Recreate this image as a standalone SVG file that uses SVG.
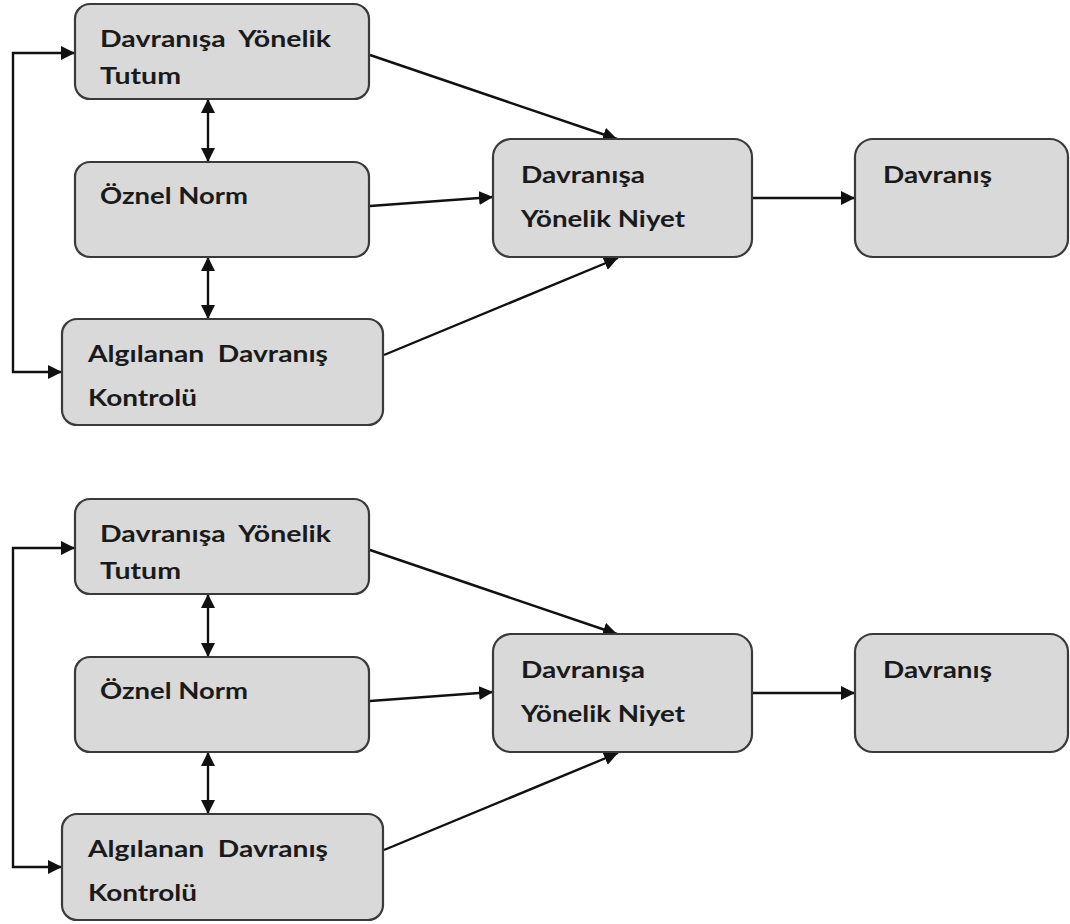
<svg xmlns="http://www.w3.org/2000/svg" width="1070" height="924" viewBox="0 0 1070 924">
<style>
.box{fill:#d9d9d9;stroke:#3a3a3a;stroke-width:2.2}
.t{font-family:Lato,"Liberation Sans",sans-serif;font-weight:bold;font-size:23px;fill:#1a1a1a;white-space:pre}
.c{fill:none;stroke:#111;stroke-width:2.4}
</style>
<defs>
<marker id="ah" viewBox="0 0 12 12" refX="12" refY="6" markerWidth="14" markerHeight="14" markerUnits="userSpaceOnUse" orient="auto-start-reverse">
<path d="M0,0 L12,6 L0,12 z" fill="#111"/>
</marker>
</defs>
<rect width="1070" height="924" fill="#fff"/>
<g id="connectors">
<path class="c" d="M75,53 H13 V372 H62" marker-start="url(#ah)" marker-end="url(#ah)"/>
<path class="c" d="M208,99 V162" marker-start="url(#ah)" marker-end="url(#ah)"/>
<path class="c" d="M208,257 V319" marker-start="url(#ah)" marker-end="url(#ah)"/>
<path class="c" d="M370,55 L617,139" marker-end="url(#ah)"/>
<path class="c" d="M370,206 L493,197" marker-end="url(#ah)"/>
<path class="c" d="M384,355 L618,258" marker-end="url(#ah)"/>
<path class="c" d="M753,198 H855" marker-end="url(#ah)"/>
<path class="c" d="M75,548 H13 V867 H62" marker-start="url(#ah)" marker-end="url(#ah)"/>
<path class="c" d="M208,594 V657" marker-start="url(#ah)" marker-end="url(#ah)"/>
<path class="c" d="M208,752 V814" marker-start="url(#ah)" marker-end="url(#ah)"/>
<path class="c" d="M370,550 L617,634" marker-end="url(#ah)"/>
<path class="c" d="M370,701 L493,692" marker-end="url(#ah)"/>
<path class="c" d="M384,850 L618,753" marker-end="url(#ah)"/>
<path class="c" d="M753,693 H855" marker-end="url(#ah)"/>
</g>
<g id="tutum1"><rect class="box" x="75" y="4" width="294" height="95" rx="15"/>
<text class="t" x="100" y="47" textLength="231" lengthAdjust="spacingAndGlyphs" xml:space="preserve">Davranışa  Yönelik</text>
<text class="t" x="100" y="84" textLength="81" lengthAdjust="spacingAndGlyphs">Tutum</text></g>
<g id="norm1"><rect class="box" x="75" y="162" width="294" height="95" rx="15"/>
<text class="t" x="100" y="204" textLength="148" lengthAdjust="spacingAndGlyphs">Öznel Norm</text></g>
<g id="kontrol1"><rect class="box" x="62" y="319" width="321" height="106" rx="15"/>
<text class="t" x="88" y="362" textLength="240" lengthAdjust="spacingAndGlyphs" xml:space="preserve">Algılanan  Davranış</text>
<text class="t" x="88" y="406" textLength="109" lengthAdjust="spacingAndGlyphs">Kontrolü</text></g>
<g id="niyet1"><rect class="box" x="493" y="139" width="259" height="118" rx="18"/>
<text class="t" x="521" y="183" textLength="124" lengthAdjust="spacingAndGlyphs">Davranışa</text>
<text class="t" x="521" y="227" textLength="164" lengthAdjust="spacingAndGlyphs">Yönelik Niyet</text></g>
<g id="davranis1"><rect class="box" x="855" y="139" width="213" height="118" rx="18"/>
<text class="t" x="883" y="183" textLength="109" lengthAdjust="spacingAndGlyphs">Davranış</text></g>
<g id="tutum2"><rect class="box" x="75" y="499" width="294" height="95" rx="15"/>
<text class="t" x="100" y="542" textLength="231" lengthAdjust="spacingAndGlyphs" xml:space="preserve">Davranışa  Yönelik</text>
<text class="t" x="100" y="579" textLength="81" lengthAdjust="spacingAndGlyphs">Tutum</text></g>
<g id="norm2"><rect class="box" x="75" y="657" width="294" height="95" rx="15"/>
<text class="t" x="100" y="699" textLength="148" lengthAdjust="spacingAndGlyphs">Öznel Norm</text></g>
<g id="kontrol2"><rect class="box" x="62" y="814" width="321" height="106" rx="15"/>
<text class="t" x="88" y="857" textLength="240" lengthAdjust="spacingAndGlyphs" xml:space="preserve">Algılanan  Davranış</text>
<text class="t" x="88" y="901" textLength="109" lengthAdjust="spacingAndGlyphs">Kontrolü</text></g>
<g id="niyet2"><rect class="box" x="493" y="634" width="259" height="118" rx="18"/>
<text class="t" x="521" y="678" textLength="124" lengthAdjust="spacingAndGlyphs">Davranışa</text>
<text class="t" x="521" y="722" textLength="164" lengthAdjust="spacingAndGlyphs">Yönelik Niyet</text></g>
<g id="davranis2"><rect class="box" x="855" y="634" width="213" height="118" rx="18"/>
<text class="t" x="883" y="678" textLength="109" lengthAdjust="spacingAndGlyphs">Davranış</text></g>
</svg>
